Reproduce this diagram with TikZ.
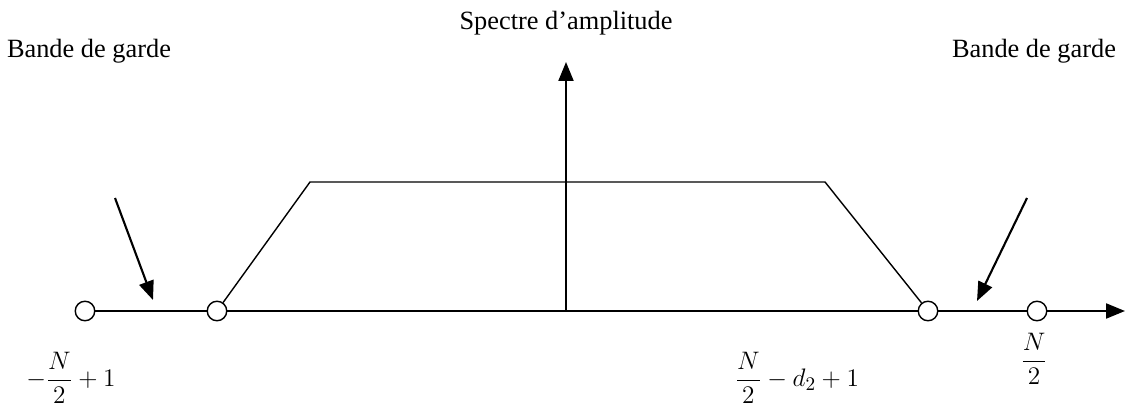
\documentclass[tikz,border=0pt]{standalone}
\usepackage{fontspec}
\setmainfont{Liberation Serif}
\usepackage{tikz}
\usetikzlibrary{arrows.meta, positioning}
\tikzset{
	bigtext/.style={font=\fontsize{15}{18}\selectfont}
}
\tikzset{
	sample/.style={circle, draw=black, thick, fill=white, inner sep=0pt, minimum size=3.9mm}
}
\tikzset{
	axis/.style={line width=1.2pt, -{Triangle[length=3.8mm, width=3mm]}}
}
\tikzset{
	guard/.style={line width=1.2pt, -{Triangle[length=3.8mm, width=3mm]}}
}

\begin{document}
\begin{tikzpicture}

	\useasboundingbox (0,0) rectangle (22.5,8.14);

	\begin{scope}
		\node[sample] (c1) at (1.7,1.92) {};
		\node[sample] (c2) at (4.34,1.92) {};
		\node[sample] (c3) at (18.56,1.92) {};
		\node[sample] (c4) at (20.74,1.92) {};

		\coordinate (xtip) at (22.5,1.92);
		\coordinate (o) at (11.32,1.92);
		\coordinate (ytip) at (11.32,6.9);

		\coordinate (tA) at (6.2,4.5);
		\coordinate (tB) at (16.5,4.5);
	\end{scope}

	\draw[axis] (c1) -- (c2) -- (c3) -- (c4) -- (xtip);
	\draw[axis] (o) -- (ytip);
	\draw[line width=0.8pt] (c2) -- (tA) -- (tB) -- (c3);

	\begin{scope}
		\coordinate (gL) at (2.3,4.18);
		\coordinate (gLend) at (3.06,2.14);
		\coordinate (gR) at (20.54,4.18);
		\coordinate (gRend) at (19.54,2.12);

		\draw[guard] (gL) -- (gLend);
		\draw[guard] (gR) -- (gRend);
	\end{scope}

	\node[bigtext] (title) at (11.32,7.68) {Spectre d’amplitude};
	\node[bigtext] (bgL) at (1.78,7.12) {Bande de garde};
	\node[bigtext] (bgR) at (20.68,7.12) {Bande de garde};

	\node[bigtext] (l1) at (1.42,0.58) {$\displaystyle -\frac{N}{2}+1$};
	\node[bigtext] (l2) at (15.94,0.58) {$\displaystyle \frac{N}{2}-d_2+1$};
	\node[bigtext] (l3) at (20.68,0.96) {$\displaystyle \frac{N}{2}$};

\end{tikzpicture}
\end{document}
